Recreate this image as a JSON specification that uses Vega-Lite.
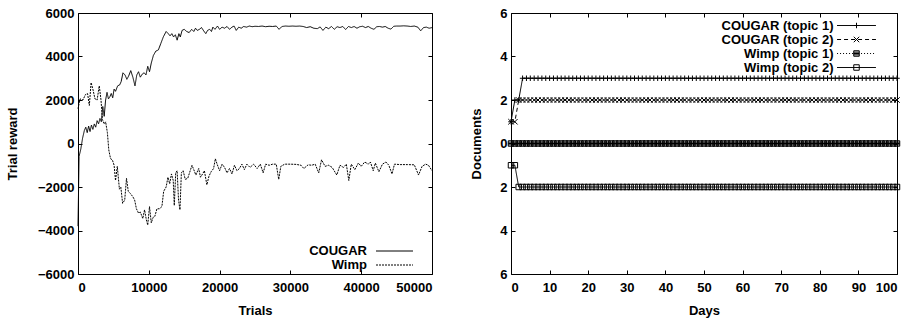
{
"$schema": "https://vega.github.io/schema/vega-lite/v6.json",
"padding": {"left": 5, "top": 6, "right": 0, "bottom": 0},
"background": "white",
"spacing": 33,
"resolve": {"scale": {"strokeDash": "independent", "shape": "independent"}, "legend": {"strokeDash": "independent", "shape": "independent"}},
"config": {
  "font": "Liberation Sans",
  "view": {"stroke": "black", "strokeWidth": 1},
  "axis": {"labelFont": "Liberation Sans", "labelFontSize": 13, "labelFontWeight": "bold", "labelColor": "black", "titleFont": "Liberation Sans", "titleFontSize": 13, "titleFontWeight": "bold", "titleColor": "black", "tickColor": "black", "tickSize": -4, "grid": false, "domain": false},
  "axisX": {"labelPadding": 11},
  "axisY": {"labelPadding": 8},
  "legend": {"labelFont": "Liberation Sans", "labelFontSize": 13, "labelFontWeight": "bold", "labelColor": "black", "padding": 0}
},
"hconcat": [
{
  "width": 354, "height": 261,
  "data": {"values": [
{"trial":0,"reward":-3800,"agent":"COUGAR"},{"trial":150,"reward":-600,"agent":"COUGAR"},{"trial":400,"reward":-250,"agent":"COUGAR"},{"trial":650,"reward":250,"agent":"COUGAR"},{"trial":900,"reward":600,"agent":"COUGAR"},{"trial":1100,"reward":750,"agent":"COUGAR"},{"trial":1300,"reward":500,"agent":"COUGAR"},{"trial":1500,"reward":800,"agent":"COUGAR"},{"trial":1700,"reward":550,"agent":"COUGAR"},{"trial":1900,"reward":850,"agent":"COUGAR"},{"trial":2100,"reward":650,"agent":"COUGAR"},{"trial":2300,"reward":900,"agent":"COUGAR"},{"trial":2500,"reward":750,"agent":"COUGAR"},{"trial":2700,"reward":1050,"agent":"COUGAR"},{"trial":2900,"reward":900,"agent":"COUGAR"},{"trial":3100,"reward":1150,"agent":"COUGAR"},{"trial":3300,"reward":1000,"agent":"COUGAR"},{"trial":3500,"reward":1700,"agent":"COUGAR"},{"trial":3700,"reward":1250,"agent":"COUGAR"},{"trial":3900,"reward":2000,"agent":"COUGAR"},{"trial":4100,"reward":2350,"agent":"COUGAR"},{"trial":4300,"reward":2050,"agent":"COUGAR"},{"trial":4500,"reward":2150,"agent":"COUGAR"},{"trial":4700,"reward":2300,"agent":"COUGAR"},{"trial":4900,"reward":2100,"agent":"COUGAR"},{"trial":5100,"reward":2500,"agent":"COUGAR"},{"trial":5300,"reward":2400,"agent":"COUGAR"},{"trial":5600,"reward":2650,"agent":"COUGAR"},{"trial":5900,"reward":2700,"agent":"COUGAR"},{"trial":6100,"reward":2850,"agent":"COUGAR"},{"trial":6350,"reward":3250,"agent":"COUGAR"},{"trial":6650,"reward":3150,"agent":"COUGAR"},{"trial":6900,"reward":2950,"agent":"COUGAR"},{"trial":7150,"reward":3100,"agent":"COUGAR"},{"trial":7450,"reward":3350,"agent":"COUGAR"},{"trial":7750,"reward":3050,"agent":"COUGAR"},{"trial":8050,"reward":2650,"agent":"COUGAR"},{"trial":8300,"reward":3150,"agent":"COUGAR"},{"trial":8550,"reward":3300,"agent":"COUGAR"},{"trial":8800,"reward":3050,"agent":"COUGAR"},{"trial":9100,"reward":3200,"agent":"COUGAR"},{"trial":9350,"reward":3250,"agent":"COUGAR"},{"trial":9600,"reward":3150,"agent":"COUGAR"},{"trial":9850,"reward":3550,"agent":"COUGAR"},{"trial":10100,"reward":3300,"agent":"COUGAR"},{"trial":10350,"reward":3700,"agent":"COUGAR"},{"trial":10650,"reward":4050,"agent":"COUGAR"},{"trial":11000,"reward":4250,"agent":"COUGAR"},{"trial":11350,"reward":4300,"agent":"COUGAR"},{"trial":11700,"reward":4600,"agent":"COUGAR"},{"trial":12050,"reward":4900,"agent":"COUGAR"},{"trial":12450,"reward":5150,"agent":"COUGAR"},{"trial":12750,"reward":5050,"agent":"COUGAR"},{"trial":13000,"reward":4950,"agent":"COUGAR"},{"trial":13250,"reward":5050,"agent":"COUGAR"},{"trial":13500,"reward":4900,"agent":"COUGAR"},{"trial":13750,"reward":5000,"agent":"COUGAR"},{"trial":14000,"reward":4750,"agent":"COUGAR"},{"trial":14250,"reward":5050,"agent":"COUGAR"},{"trial":14450,"reward":4900,"agent":"COUGAR"},{"trial":14700,"reward":5200,"agent":"COUGAR"},{"trial":15000,"reward":5250,"agent":"COUGAR"},{"trial":15350,"reward":5150,"agent":"COUGAR"},{"trial":15700,"reward":5100,"agent":"COUGAR"},{"trial":16050,"reward":5250,"agent":"COUGAR"},{"trial":16350,"reward":5150,"agent":"COUGAR"},{"trial":16600,"reward":5300,"agent":"COUGAR"},{"trial":16850,"reward":5200,"agent":"COUGAR"},{"trial":17150,"reward":5250,"agent":"COUGAR"},{"trial":17450,"reward":5330,"agent":"COUGAR"},{"trial":17750,"reward":5180,"agent":"COUGAR"},{"trial":18050,"reward":5050,"agent":"COUGAR"},{"trial":18300,"reward":5200,"agent":"COUGAR"},{"trial":18600,"reward":5250,"agent":"COUGAR"},{"trial":18850,"reward":5150,"agent":"COUGAR"},{"trial":19050,"reward":5350,"agent":"COUGAR"},{"trial":19350,"reward":5250,"agent":"COUGAR"},{"trial":19700,"reward":5400,"agent":"COUGAR"},{"trial":20000,"reward":5250,"agent":"COUGAR"},{"trial":20350,"reward":5350,"agent":"COUGAR"},{"trial":20700,"reward":5300,"agent":"COUGAR"},{"trial":21050,"reward":5380,"agent":"COUGAR"},{"trial":21400,"reward":5250,"agent":"COUGAR"},{"trial":21750,"reward":5350,"agent":"COUGAR"},{"trial":22050,"reward":5400,"agent":"COUGAR"},{"trial":22350,"reward":5200,"agent":"COUGAR"},{"trial":22700,"reward":5350,"agent":"COUGAR"},{"trial":23050,"reward":5300,"agent":"COUGAR"},{"trial":23400,"reward":5380,"agent":"COUGAR"},{"trial":23800,"reward":5350,"agent":"COUGAR"},{"trial":24200,"reward":5400,"agent":"COUGAR"},{"trial":24600,"reward":5370,"agent":"COUGAR"},{"trial":25000,"reward":5390,"agent":"COUGAR"},{"trial":25500,"reward":5380,"agent":"COUGAR"},{"trial":26000,"reward":5400,"agent":"COUGAR"},{"trial":26500,"reward":5370,"agent":"COUGAR"},{"trial":27000,"reward":5390,"agent":"COUGAR"},{"trial":27500,"reward":5380,"agent":"COUGAR"},{"trial":28000,"reward":5400,"agent":"COUGAR"},{"trial":28400,"reward":5250,"agent":"COUGAR"},{"trial":28800,"reward":5380,"agent":"COUGAR"},{"trial":29300,"reward":5400,"agent":"COUGAR"},{"trial":29800,"reward":5390,"agent":"COUGAR"},{"trial":30300,"reward":5400,"agent":"COUGAR"},{"trial":30800,"reward":5390,"agent":"COUGAR"},{"trial":31300,"reward":5400,"agent":"COUGAR"},{"trial":31800,"reward":5380,"agent":"COUGAR"},{"trial":32300,"reward":5330,"agent":"COUGAR"},{"trial":32800,"reward":5370,"agent":"COUGAR"},{"trial":33300,"reward":5300,"agent":"COUGAR"},{"trial":33800,"reward":5280,"agent":"COUGAR"},{"trial":34200,"reward":5360,"agent":"COUGAR"},{"trial":34600,"reward":5200,"agent":"COUGAR"},{"trial":35000,"reward":5350,"agent":"COUGAR"},{"trial":35400,"reward":5280,"agent":"COUGAR"},{"trial":35800,"reward":5380,"agent":"COUGAR"},{"trial":36200,"reward":5250,"agent":"COUGAR"},{"trial":36600,"reward":5370,"agent":"COUGAR"},{"trial":37000,"reward":5330,"agent":"COUGAR"},{"trial":37400,"reward":5380,"agent":"COUGAR"},{"trial":37800,"reward":5240,"agent":"COUGAR"},{"trial":38200,"reward":5380,"agent":"COUGAR"},{"trial":38600,"reward":5330,"agent":"COUGAR"},{"trial":39000,"reward":5380,"agent":"COUGAR"},{"trial":39400,"reward":5300,"agent":"COUGAR"},{"trial":39800,"reward":5370,"agent":"COUGAR"},{"trial":40200,"reward":5390,"agent":"COUGAR"},{"trial":40600,"reward":5330,"agent":"COUGAR"},{"trial":41000,"reward":5380,"agent":"COUGAR"},{"trial":41400,"reward":5300,"agent":"COUGAR"},{"trial":41800,"reward":5250,"agent":"COUGAR"},{"trial":42200,"reward":5370,"agent":"COUGAR"},{"trial":42600,"reward":5380,"agent":"COUGAR"},{"trial":43000,"reward":5350,"agent":"COUGAR"},{"trial":43400,"reward":5380,"agent":"COUGAR"},{"trial":43800,"reward":5300,"agent":"COUGAR"},{"trial":44200,"reward":5260,"agent":"COUGAR"},{"trial":44600,"reward":5390,"agent":"COUGAR"},{"trial":45000,"reward":5400,"agent":"COUGAR"},{"trial":45500,"reward":5400,"agent":"COUGAR"},{"trial":46000,"reward":5410,"agent":"COUGAR"},{"trial":46500,"reward":5400,"agent":"COUGAR"},{"trial":47000,"reward":5380,"agent":"COUGAR"},{"trial":47500,"reward":5400,"agent":"COUGAR"},{"trial":48000,"reward":5350,"agent":"COUGAR"},{"trial":48400,"reward":5180,"agent":"COUGAR"},{"trial":48800,"reward":5330,"agent":"COUGAR"},{"trial":49200,"reward":5350,"agent":"COUGAR"},{"trial":49600,"reward":5300,"agent":"COUGAR"},{"trial":50000,"reward":5330,"agent":"COUGAR"},
{"trial":0,"reward":1600,"agent":"Wimp"},{"trial":300,"reward":2050,"agent":"Wimp"},{"trial":700,"reward":2000,"agent":"Wimp"},{"trial":1050,"reward":2250,"agent":"Wimp"},{"trial":1350,"reward":2300,"agent":"Wimp"},{"trial":1600,"reward":1750,"agent":"Wimp"},{"trial":1850,"reward":2800,"agent":"Wimp"},{"trial":2100,"reward":2500,"agent":"Wimp"},{"trial":2400,"reward":2050,"agent":"Wimp"},{"trial":2700,"reward":2000,"agent":"Wimp"},{"trial":3000,"reward":2650,"agent":"Wimp"},{"trial":3250,"reward":2000,"agent":"Wimp"},{"trial":3450,"reward":1100,"agent":"Wimp"},{"trial":3700,"reward":900,"agent":"Wimp"},{"trial":3900,"reward":1000,"agent":"Wimp"},{"trial":4150,"reward":500,"agent":"Wimp"},{"trial":4350,"reward":-300,"agent":"Wimp"},{"trial":4600,"reward":-700,"agent":"Wimp"},{"trial":4850,"reward":-750,"agent":"Wimp"},{"trial":5100,"reward":-1000,"agent":"Wimp"},{"trial":5300,"reward":-1700,"agent":"Wimp"},{"trial":5550,"reward":-1050,"agent":"Wimp"},{"trial":5850,"reward":-2100,"agent":"Wimp"},{"trial":6050,"reward":-2000,"agent":"Wimp"},{"trial":6300,"reward":-2750,"agent":"Wimp"},{"trial":6600,"reward":-2600,"agent":"Wimp"},{"trial":6850,"reward":-1600,"agent":"Wimp"},{"trial":7100,"reward":-2200,"agent":"Wimp"},{"trial":7400,"reward":-2300,"agent":"Wimp"},{"trial":7750,"reward":-2450,"agent":"Wimp"},{"trial":8000,"reward":-2600,"agent":"Wimp"},{"trial":8250,"reward":-3000,"agent":"Wimp"},{"trial":8550,"reward":-3200,"agent":"Wimp"},{"trial":8800,"reward":-3150,"agent":"Wimp"},{"trial":9150,"reward":-3450,"agent":"Wimp"},{"trial":9400,"reward":-3050,"agent":"Wimp"},{"trial":9650,"reward":-3500,"agent":"Wimp"},{"trial":9850,"reward":-3750,"agent":"Wimp"},{"trial":10100,"reward":-2900,"agent":"Wimp"},{"trial":10350,"reward":-3650,"agent":"Wimp"},{"trial":10600,"reward":-3400,"agent":"Wimp"},{"trial":10850,"reward":-3350,"agent":"Wimp"},{"trial":11150,"reward":-3000,"agent":"Wimp"},{"trial":11500,"reward":-3000,"agent":"Wimp"},{"trial":11850,"reward":-2900,"agent":"Wimp"},{"trial":12100,"reward":-2200,"agent":"Wimp"},{"trial":12450,"reward":-2000,"agent":"Wimp"},{"trial":12700,"reward":-1550,"agent":"Wimp"},{"trial":12950,"reward":-1850,"agent":"Wimp"},{"trial":13200,"reward":-1400,"agent":"Wimp"},{"trial":13450,"reward":-1700,"agent":"Wimp"},{"trial":13600,"reward":-2850,"agent":"Wimp"},{"trial":13800,"reward":-1350,"agent":"Wimp"},{"trial":14000,"reward":-1250,"agent":"Wimp"},{"trial":14200,"reward":-2600,"agent":"Wimp"},{"trial":14400,"reward":-3050,"agent":"Wimp"},{"trial":14600,"reward":-1350,"agent":"Wimp"},{"trial":14850,"reward":-1250,"agent":"Wimp"},{"trial":15150,"reward":-1650,"agent":"Wimp"},{"trial":15500,"reward":-1600,"agent":"Wimp"},{"trial":15850,"reward":-1250,"agent":"Wimp"},{"trial":16100,"reward":-1000,"agent":"Wimp"},{"trial":16350,"reward":-1200,"agent":"Wimp"},{"trial":16650,"reward":-1450,"agent":"Wimp"},{"trial":17050,"reward":-1150,"agent":"Wimp"},{"trial":17300,"reward":-1550,"agent":"Wimp"},{"trial":17600,"reward":-1400,"agent":"Wimp"},{"trial":17850,"reward":-1250,"agent":"Wimp"},{"trial":18200,"reward":-1900,"agent":"Wimp"},{"trial":18500,"reward":-1500,"agent":"Wimp"},{"trial":18800,"reward":-1300,"agent":"Wimp"},{"trial":19150,"reward":-1150,"agent":"Wimp"},{"trial":19400,"reward":-700,"agent":"Wimp"},{"trial":19650,"reward":-950,"agent":"Wimp"},{"trial":20000,"reward":-1250,"agent":"Wimp"},{"trial":20350,"reward":-950,"agent":"Wimp"},{"trial":20700,"reward":-1100,"agent":"Wimp"},{"trial":21050,"reward":-1350,"agent":"Wimp"},{"trial":21400,"reward":-1150,"agent":"Wimp"},{"trial":21750,"reward":-1400,"agent":"Wimp"},{"trial":22100,"reward":-1000,"agent":"Wimp"},{"trial":22450,"reward":-1250,"agent":"Wimp"},{"trial":22800,"reward":-1150,"agent":"Wimp"},{"trial":23150,"reward":-950,"agent":"Wimp"},{"trial":23500,"reward":-1200,"agent":"Wimp"},{"trial":23850,"reward":-950,"agent":"Wimp"},{"trial":24300,"reward":-1100,"agent":"Wimp"},{"trial":24800,"reward":-950,"agent":"Wimp"},{"trial":25300,"reward":-1150,"agent":"Wimp"},{"trial":25750,"reward":-950,"agent":"Wimp"},{"trial":26150,"reward":-1350,"agent":"Wimp"},{"trial":26500,"reward":-950,"agent":"Wimp"},{"trial":27000,"reward":-1000,"agent":"Wimp"},{"trial":27500,"reward":-950,"agent":"Wimp"},{"trial":28000,"reward":-950,"agent":"Wimp"},{"trial":28350,"reward":-1650,"agent":"Wimp"},{"trial":28650,"reward":-1050,"agent":"Wimp"},{"trial":29200,"reward":-950,"agent":"Wimp"},{"trial":30000,"reward":-950,"agent":"Wimp"},{"trial":30800,"reward":-960,"agent":"Wimp"},{"trial":31500,"reward":-1000,"agent":"Wimp"},{"trial":31900,"reward":-1150,"agent":"Wimp"},{"trial":32500,"reward":-980,"agent":"Wimp"},{"trial":33000,"reward":-1000,"agent":"Wimp"},{"trial":33500,"reward":-950,"agent":"Wimp"},{"trial":34000,"reward":-1350,"agent":"Wimp"},{"trial":34400,"reward":-750,"agent":"Wimp"},{"trial":34900,"reward":-1050,"agent":"Wimp"},{"trial":35400,"reward":-1000,"agent":"Wimp"},{"trial":35900,"reward":-1100,"agent":"Wimp"},{"trial":36550,"reward":-1450,"agent":"Wimp"},{"trial":37000,"reward":-1000,"agent":"Wimp"},{"trial":37500,"reward":-1100,"agent":"Wimp"},{"trial":37900,"reward":-950,"agent":"Wimp"},{"trial":38250,"reward":-1700,"agent":"Wimp"},{"trial":38600,"reward":-950,"agent":"Wimp"},{"trial":39100,"reward":-1200,"agent":"Wimp"},{"trial":39600,"reward":-900,"agent":"Wimp"},{"trial":40000,"reward":-1050,"agent":"Wimp"},{"trial":40500,"reward":-850,"agent":"Wimp"},{"trial":41000,"reward":-950,"agent":"Wimp"},{"trial":41300,"reward":-850,"agent":"Wimp"},{"trial":41700,"reward":-1250,"agent":"Wimp"},{"trial":42000,"reward":-900,"agent":"Wimp"},{"trial":42500,"reward":-1300,"agent":"Wimp"},{"trial":43000,"reward":-950,"agent":"Wimp"},{"trial":43500,"reward":-850,"agent":"Wimp"},{"trial":43900,"reward":-1000,"agent":"Wimp"},{"trial":44350,"reward":-1400,"agent":"Wimp"},{"trial":44700,"reward":-950,"agent":"Wimp"},{"trial":45500,"reward":-970,"agent":"Wimp"},{"trial":46500,"reward":-970,"agent":"Wimp"},{"trial":47500,"reward":-980,"agent":"Wimp"},{"trial":48100,"reward":-1450,"agent":"Wimp"},{"trial":48600,"reward":-1050,"agent":"Wimp"},{"trial":49100,"reward":-950,"agent":"Wimp"},{"trial":49500,"reward":-1000,"agent":"Wimp"},{"trial":50000,"reward":-1250,"agent":"Wimp"}
  ]},
  "layer": [
    {"mark": {"type": "line", "color": "black", "strokeWidth": 1},
     "encoding": {
       "x": {"field": "trial", "type": "quantitative", "scale": {"domain": [0, 50000], "nice": false}, "axis": {"orient": "bottom", "title": "Trials", "values": [0, 10000, 20000, 30000, 40000, 50000], "format": "d", "titleY": 36, "titleBaseline": "middle"}},
       "y": {"field": "reward", "type": "quantitative", "scale": {"domain": [-6000, 6000], "nice": false}, "axis": {"orient": "left", "title": "Trial reward", "values": [-6000, -4000, -2000, 0, 2000, 4000, 6000], "format": "d", "titleX": -66, "titleBaseline": "middle"}},
       "strokeDash": {"field": "agent", "type": "nominal", "scale": {"domain": ["COUGAR", "Wimp"], "range": [[1, 0], [2, 1]]}, "legend": {"title": null, "orient": "none", "legendX": 310, "legendY": 231.5, "labelAlign": "right", "labelOffset": -34, "symbolSize": 30, "symbolType": "M-6.75,0L6.75,0", "symbolStrokeWidth": 1, "symbolStrokeColor": "black", "symbolFillColor": "transparent", "rowPadding": 0}}
     }},
    {"mark": {"type": "point", "opacity": 0},
     "encoding": {
       "x": {"field": "trial", "type": "quantitative", "axis": {"orient": "top", "labels": false, "title": null, "values": [0, 10000, 20000, 30000, 40000, 50000]}},
       "y": {"field": "reward", "type": "quantitative", "axis": {"orient": "right", "labels": false, "title": null, "values": [-6000, -4000, -2000, 0, 2000, 4000, 6000]}}
     }}
  ],
  "resolve": {"axis": {"x": "independent", "y": "independent"}}
},
{
  "width": 386, "height": 261,
  "data": {"values": [
{"day":0,"docs":1,"series":"COUGAR (topic 1)"},{"day":1,"docs":2,"series":"COUGAR (topic 1)"},{"day":2,"docs":2,"series":"COUGAR (topic 1)"},{"day":3,"docs":3,"series":"COUGAR (topic 1)"},{"day":4,"docs":3,"series":"COUGAR (topic 1)"},{"day":5,"docs":3,"series":"COUGAR (topic 1)"},{"day":6,"docs":3,"series":"COUGAR (topic 1)"},{"day":7,"docs":3,"series":"COUGAR (topic 1)"},{"day":8,"docs":3,"series":"COUGAR (topic 1)"},{"day":9,"docs":3,"series":"COUGAR (topic 1)"},{"day":10,"docs":3,"series":"COUGAR (topic 1)"},{"day":11,"docs":3,"series":"COUGAR (topic 1)"},{"day":12,"docs":3,"series":"COUGAR (topic 1)"},{"day":13,"docs":3,"series":"COUGAR (topic 1)"},{"day":14,"docs":3,"series":"COUGAR (topic 1)"},{"day":15,"docs":3,"series":"COUGAR (topic 1)"},{"day":16,"docs":3,"series":"COUGAR (topic 1)"},{"day":17,"docs":3,"series":"COUGAR (topic 1)"},{"day":18,"docs":3,"series":"COUGAR (topic 1)"},{"day":19,"docs":3,"series":"COUGAR (topic 1)"},{"day":20,"docs":3,"series":"COUGAR (topic 1)"},{"day":21,"docs":3,"series":"COUGAR (topic 1)"},{"day":22,"docs":3,"series":"COUGAR (topic 1)"},{"day":23,"docs":3,"series":"COUGAR (topic 1)"},{"day":24,"docs":3,"series":"COUGAR (topic 1)"},{"day":25,"docs":3,"series":"COUGAR (topic 1)"},{"day":26,"docs":3,"series":"COUGAR (topic 1)"},{"day":27,"docs":3,"series":"COUGAR (topic 1)"},{"day":28,"docs":3,"series":"COUGAR (topic 1)"},{"day":29,"docs":3,"series":"COUGAR (topic 1)"},{"day":30,"docs":3,"series":"COUGAR (topic 1)"},{"day":31,"docs":3,"series":"COUGAR (topic 1)"},{"day":32,"docs":3,"series":"COUGAR (topic 1)"},{"day":33,"docs":3,"series":"COUGAR (topic 1)"},{"day":34,"docs":3,"series":"COUGAR (topic 1)"},{"day":35,"docs":3,"series":"COUGAR (topic 1)"},{"day":36,"docs":3,"series":"COUGAR (topic 1)"},{"day":37,"docs":3,"series":"COUGAR (topic 1)"},{"day":38,"docs":3,"series":"COUGAR (topic 1)"},{"day":39,"docs":3,"series":"COUGAR (topic 1)"},{"day":40,"docs":3,"series":"COUGAR (topic 1)"},{"day":41,"docs":3,"series":"COUGAR (topic 1)"},{"day":42,"docs":3,"series":"COUGAR (topic 1)"},{"day":43,"docs":3,"series":"COUGAR (topic 1)"},{"day":44,"docs":3,"series":"COUGAR (topic 1)"},{"day":45,"docs":3,"series":"COUGAR (topic 1)"},{"day":46,"docs":3,"series":"COUGAR (topic 1)"},{"day":47,"docs":3,"series":"COUGAR (topic 1)"},{"day":48,"docs":3,"series":"COUGAR (topic 1)"},{"day":49,"docs":3,"series":"COUGAR (topic 1)"},{"day":50,"docs":3,"series":"COUGAR (topic 1)"},{"day":51,"docs":3,"series":"COUGAR (topic 1)"},{"day":52,"docs":3,"series":"COUGAR (topic 1)"},{"day":53,"docs":3,"series":"COUGAR (topic 1)"},{"day":54,"docs":3,"series":"COUGAR (topic 1)"},{"day":55,"docs":3,"series":"COUGAR (topic 1)"},{"day":56,"docs":3,"series":"COUGAR (topic 1)"},{"day":57,"docs":3,"series":"COUGAR (topic 1)"},{"day":58,"docs":3,"series":"COUGAR (topic 1)"},{"day":59,"docs":3,"series":"COUGAR (topic 1)"},{"day":60,"docs":3,"series":"COUGAR (topic 1)"},{"day":61,"docs":3,"series":"COUGAR (topic 1)"},{"day":62,"docs":3,"series":"COUGAR (topic 1)"},{"day":63,"docs":3,"series":"COUGAR (topic 1)"},{"day":64,"docs":3,"series":"COUGAR (topic 1)"},{"day":65,"docs":3,"series":"COUGAR (topic 1)"},{"day":66,"docs":3,"series":"COUGAR (topic 1)"},{"day":67,"docs":3,"series":"COUGAR (topic 1)"},{"day":68,"docs":3,"series":"COUGAR (topic 1)"},{"day":69,"docs":3,"series":"COUGAR (topic 1)"},{"day":70,"docs":3,"series":"COUGAR (topic 1)"},{"day":71,"docs":3,"series":"COUGAR (topic 1)"},{"day":72,"docs":3,"series":"COUGAR (topic 1)"},{"day":73,"docs":3,"series":"COUGAR (topic 1)"},{"day":74,"docs":3,"series":"COUGAR (topic 1)"},{"day":75,"docs":3,"series":"COUGAR (topic 1)"},{"day":76,"docs":3,"series":"COUGAR (topic 1)"},{"day":77,"docs":3,"series":"COUGAR (topic 1)"},{"day":78,"docs":3,"series":"COUGAR (topic 1)"},{"day":79,"docs":3,"series":"COUGAR (topic 1)"},{"day":80,"docs":3,"series":"COUGAR (topic 1)"},{"day":81,"docs":3,"series":"COUGAR (topic 1)"},{"day":82,"docs":3,"series":"COUGAR (topic 1)"},{"day":83,"docs":3,"series":"COUGAR (topic 1)"},{"day":84,"docs":3,"series":"COUGAR (topic 1)"},{"day":85,"docs":3,"series":"COUGAR (topic 1)"},{"day":86,"docs":3,"series":"COUGAR (topic 1)"},{"day":87,"docs":3,"series":"COUGAR (topic 1)"},{"day":88,"docs":3,"series":"COUGAR (topic 1)"},{"day":89,"docs":3,"series":"COUGAR (topic 1)"},{"day":90,"docs":3,"series":"COUGAR (topic 1)"},{"day":91,"docs":3,"series":"COUGAR (topic 1)"},{"day":92,"docs":3,"series":"COUGAR (topic 1)"},{"day":93,"docs":3,"series":"COUGAR (topic 1)"},{"day":94,"docs":3,"series":"COUGAR (topic 1)"},{"day":95,"docs":3,"series":"COUGAR (topic 1)"},{"day":96,"docs":3,"series":"COUGAR (topic 1)"},{"day":97,"docs":3,"series":"COUGAR (topic 1)"},{"day":98,"docs":3,"series":"COUGAR (topic 1)"},{"day":99,"docs":3,"series":"COUGAR (topic 1)"},{"day":100,"docs":3,"series":"COUGAR (topic 1)"},
{"day":0,"docs":1,"series":"COUGAR (topic 2)"},{"day":1,"docs":1,"series":"COUGAR (topic 2)"},{"day":2,"docs":2,"series":"COUGAR (topic 2)"},{"day":3,"docs":2,"series":"COUGAR (topic 2)"},{"day":4,"docs":2,"series":"COUGAR (topic 2)"},{"day":5,"docs":2,"series":"COUGAR (topic 2)"},{"day":6,"docs":2,"series":"COUGAR (topic 2)"},{"day":7,"docs":2,"series":"COUGAR (topic 2)"},{"day":8,"docs":2,"series":"COUGAR (topic 2)"},{"day":9,"docs":2,"series":"COUGAR (topic 2)"},{"day":10,"docs":2,"series":"COUGAR (topic 2)"},{"day":11,"docs":2,"series":"COUGAR (topic 2)"},{"day":12,"docs":2,"series":"COUGAR (topic 2)"},{"day":13,"docs":2,"series":"COUGAR (topic 2)"},{"day":14,"docs":2,"series":"COUGAR (topic 2)"},{"day":15,"docs":2,"series":"COUGAR (topic 2)"},{"day":16,"docs":2,"series":"COUGAR (topic 2)"},{"day":17,"docs":2,"series":"COUGAR (topic 2)"},{"day":18,"docs":2,"series":"COUGAR (topic 2)"},{"day":19,"docs":2,"series":"COUGAR (topic 2)"},{"day":20,"docs":2,"series":"COUGAR (topic 2)"},{"day":21,"docs":2,"series":"COUGAR (topic 2)"},{"day":22,"docs":2,"series":"COUGAR (topic 2)"},{"day":23,"docs":2,"series":"COUGAR (topic 2)"},{"day":24,"docs":2,"series":"COUGAR (topic 2)"},{"day":25,"docs":2,"series":"COUGAR (topic 2)"},{"day":26,"docs":2,"series":"COUGAR (topic 2)"},{"day":27,"docs":2,"series":"COUGAR (topic 2)"},{"day":28,"docs":2,"series":"COUGAR (topic 2)"},{"day":29,"docs":2,"series":"COUGAR (topic 2)"},{"day":30,"docs":2,"series":"COUGAR (topic 2)"},{"day":31,"docs":2,"series":"COUGAR (topic 2)"},{"day":32,"docs":2,"series":"COUGAR (topic 2)"},{"day":33,"docs":2,"series":"COUGAR (topic 2)"},{"day":34,"docs":2,"series":"COUGAR (topic 2)"},{"day":35,"docs":2,"series":"COUGAR (topic 2)"},{"day":36,"docs":2,"series":"COUGAR (topic 2)"},{"day":37,"docs":2,"series":"COUGAR (topic 2)"},{"day":38,"docs":2,"series":"COUGAR (topic 2)"},{"day":39,"docs":2,"series":"COUGAR (topic 2)"},{"day":40,"docs":2,"series":"COUGAR (topic 2)"},{"day":41,"docs":2,"series":"COUGAR (topic 2)"},{"day":42,"docs":2,"series":"COUGAR (topic 2)"},{"day":43,"docs":2,"series":"COUGAR (topic 2)"},{"day":44,"docs":2,"series":"COUGAR (topic 2)"},{"day":45,"docs":2,"series":"COUGAR (topic 2)"},{"day":46,"docs":2,"series":"COUGAR (topic 2)"},{"day":47,"docs":2,"series":"COUGAR (topic 2)"},{"day":48,"docs":2,"series":"COUGAR (topic 2)"},{"day":49,"docs":2,"series":"COUGAR (topic 2)"},{"day":50,"docs":2,"series":"COUGAR (topic 2)"},{"day":51,"docs":2,"series":"COUGAR (topic 2)"},{"day":52,"docs":2,"series":"COUGAR (topic 2)"},{"day":53,"docs":2,"series":"COUGAR (topic 2)"},{"day":54,"docs":2,"series":"COUGAR (topic 2)"},{"day":55,"docs":2,"series":"COUGAR (topic 2)"},{"day":56,"docs":2,"series":"COUGAR (topic 2)"},{"day":57,"docs":2,"series":"COUGAR (topic 2)"},{"day":58,"docs":2,"series":"COUGAR (topic 2)"},{"day":59,"docs":2,"series":"COUGAR (topic 2)"},{"day":60,"docs":2,"series":"COUGAR (topic 2)"},{"day":61,"docs":2,"series":"COUGAR (topic 2)"},{"day":62,"docs":2,"series":"COUGAR (topic 2)"},{"day":63,"docs":2,"series":"COUGAR (topic 2)"},{"day":64,"docs":2,"series":"COUGAR (topic 2)"},{"day":65,"docs":2,"series":"COUGAR (topic 2)"},{"day":66,"docs":2,"series":"COUGAR (topic 2)"},{"day":67,"docs":2,"series":"COUGAR (topic 2)"},{"day":68,"docs":2,"series":"COUGAR (topic 2)"},{"day":69,"docs":2,"series":"COUGAR (topic 2)"},{"day":70,"docs":2,"series":"COUGAR (topic 2)"},{"day":71,"docs":2,"series":"COUGAR (topic 2)"},{"day":72,"docs":2,"series":"COUGAR (topic 2)"},{"day":73,"docs":2,"series":"COUGAR (topic 2)"},{"day":74,"docs":2,"series":"COUGAR (topic 2)"},{"day":75,"docs":2,"series":"COUGAR (topic 2)"},{"day":76,"docs":2,"series":"COUGAR (topic 2)"},{"day":77,"docs":2,"series":"COUGAR (topic 2)"},{"day":78,"docs":2,"series":"COUGAR (topic 2)"},{"day":79,"docs":2,"series":"COUGAR (topic 2)"},{"day":80,"docs":2,"series":"COUGAR (topic 2)"},{"day":81,"docs":2,"series":"COUGAR (topic 2)"},{"day":82,"docs":2,"series":"COUGAR (topic 2)"},{"day":83,"docs":2,"series":"COUGAR (topic 2)"},{"day":84,"docs":2,"series":"COUGAR (topic 2)"},{"day":85,"docs":2,"series":"COUGAR (topic 2)"},{"day":86,"docs":2,"series":"COUGAR (topic 2)"},{"day":87,"docs":2,"series":"COUGAR (topic 2)"},{"day":88,"docs":2,"series":"COUGAR (topic 2)"},{"day":89,"docs":2,"series":"COUGAR (topic 2)"},{"day":90,"docs":2,"series":"COUGAR (topic 2)"},{"day":91,"docs":2,"series":"COUGAR (topic 2)"},{"day":92,"docs":2,"series":"COUGAR (topic 2)"},{"day":93,"docs":2,"series":"COUGAR (topic 2)"},{"day":94,"docs":2,"series":"COUGAR (topic 2)"},{"day":95,"docs":2,"series":"COUGAR (topic 2)"},{"day":96,"docs":2,"series":"COUGAR (topic 2)"},{"day":97,"docs":2,"series":"COUGAR (topic 2)"},{"day":98,"docs":2,"series":"COUGAR (topic 2)"},{"day":99,"docs":2,"series":"COUGAR (topic 2)"},{"day":100,"docs":2,"series":"COUGAR (topic 2)"},
{"day":0,"docs":0,"series":"Wimp (topic 1)"},{"day":1,"docs":0,"series":"Wimp (topic 1)"},{"day":2,"docs":0,"series":"Wimp (topic 1)"},{"day":3,"docs":0,"series":"Wimp (topic 1)"},{"day":4,"docs":0,"series":"Wimp (topic 1)"},{"day":5,"docs":0,"series":"Wimp (topic 1)"},{"day":6,"docs":0,"series":"Wimp (topic 1)"},{"day":7,"docs":0,"series":"Wimp (topic 1)"},{"day":8,"docs":0,"series":"Wimp (topic 1)"},{"day":9,"docs":0,"series":"Wimp (topic 1)"},{"day":10,"docs":0,"series":"Wimp (topic 1)"},{"day":11,"docs":0,"series":"Wimp (topic 1)"},{"day":12,"docs":0,"series":"Wimp (topic 1)"},{"day":13,"docs":0,"series":"Wimp (topic 1)"},{"day":14,"docs":0,"series":"Wimp (topic 1)"},{"day":15,"docs":0,"series":"Wimp (topic 1)"},{"day":16,"docs":0,"series":"Wimp (topic 1)"},{"day":17,"docs":0,"series":"Wimp (topic 1)"},{"day":18,"docs":0,"series":"Wimp (topic 1)"},{"day":19,"docs":0,"series":"Wimp (topic 1)"},{"day":20,"docs":0,"series":"Wimp (topic 1)"},{"day":21,"docs":0,"series":"Wimp (topic 1)"},{"day":22,"docs":0,"series":"Wimp (topic 1)"},{"day":23,"docs":0,"series":"Wimp (topic 1)"},{"day":24,"docs":0,"series":"Wimp (topic 1)"},{"day":25,"docs":0,"series":"Wimp (topic 1)"},{"day":26,"docs":0,"series":"Wimp (topic 1)"},{"day":27,"docs":0,"series":"Wimp (topic 1)"},{"day":28,"docs":0,"series":"Wimp (topic 1)"},{"day":29,"docs":0,"series":"Wimp (topic 1)"},{"day":30,"docs":0,"series":"Wimp (topic 1)"},{"day":31,"docs":0,"series":"Wimp (topic 1)"},{"day":32,"docs":0,"series":"Wimp (topic 1)"},{"day":33,"docs":0,"series":"Wimp (topic 1)"},{"day":34,"docs":0,"series":"Wimp (topic 1)"},{"day":35,"docs":0,"series":"Wimp (topic 1)"},{"day":36,"docs":0,"series":"Wimp (topic 1)"},{"day":37,"docs":0,"series":"Wimp (topic 1)"},{"day":38,"docs":0,"series":"Wimp (topic 1)"},{"day":39,"docs":0,"series":"Wimp (topic 1)"},{"day":40,"docs":0,"series":"Wimp (topic 1)"},{"day":41,"docs":0,"series":"Wimp (topic 1)"},{"day":42,"docs":0,"series":"Wimp (topic 1)"},{"day":43,"docs":0,"series":"Wimp (topic 1)"},{"day":44,"docs":0,"series":"Wimp (topic 1)"},{"day":45,"docs":0,"series":"Wimp (topic 1)"},{"day":46,"docs":0,"series":"Wimp (topic 1)"},{"day":47,"docs":0,"series":"Wimp (topic 1)"},{"day":48,"docs":0,"series":"Wimp (topic 1)"},{"day":49,"docs":0,"series":"Wimp (topic 1)"},{"day":50,"docs":0,"series":"Wimp (topic 1)"},{"day":51,"docs":0,"series":"Wimp (topic 1)"},{"day":52,"docs":0,"series":"Wimp (topic 1)"},{"day":53,"docs":0,"series":"Wimp (topic 1)"},{"day":54,"docs":0,"series":"Wimp (topic 1)"},{"day":55,"docs":0,"series":"Wimp (topic 1)"},{"day":56,"docs":0,"series":"Wimp (topic 1)"},{"day":57,"docs":0,"series":"Wimp (topic 1)"},{"day":58,"docs":0,"series":"Wimp (topic 1)"},{"day":59,"docs":0,"series":"Wimp (topic 1)"},{"day":60,"docs":0,"series":"Wimp (topic 1)"},{"day":61,"docs":0,"series":"Wimp (topic 1)"},{"day":62,"docs":0,"series":"Wimp (topic 1)"},{"day":63,"docs":0,"series":"Wimp (topic 1)"},{"day":64,"docs":0,"series":"Wimp (topic 1)"},{"day":65,"docs":0,"series":"Wimp (topic 1)"},{"day":66,"docs":0,"series":"Wimp (topic 1)"},{"day":67,"docs":0,"series":"Wimp (topic 1)"},{"day":68,"docs":0,"series":"Wimp (topic 1)"},{"day":69,"docs":0,"series":"Wimp (topic 1)"},{"day":70,"docs":0,"series":"Wimp (topic 1)"},{"day":71,"docs":0,"series":"Wimp (topic 1)"},{"day":72,"docs":0,"series":"Wimp (topic 1)"},{"day":73,"docs":0,"series":"Wimp (topic 1)"},{"day":74,"docs":0,"series":"Wimp (topic 1)"},{"day":75,"docs":0,"series":"Wimp (topic 1)"},{"day":76,"docs":0,"series":"Wimp (topic 1)"},{"day":77,"docs":0,"series":"Wimp (topic 1)"},{"day":78,"docs":0,"series":"Wimp (topic 1)"},{"day":79,"docs":0,"series":"Wimp (topic 1)"},{"day":80,"docs":0,"series":"Wimp (topic 1)"},{"day":81,"docs":0,"series":"Wimp (topic 1)"},{"day":82,"docs":0,"series":"Wimp (topic 1)"},{"day":83,"docs":0,"series":"Wimp (topic 1)"},{"day":84,"docs":0,"series":"Wimp (topic 1)"},{"day":85,"docs":0,"series":"Wimp (topic 1)"},{"day":86,"docs":0,"series":"Wimp (topic 1)"},{"day":87,"docs":0,"series":"Wimp (topic 1)"},{"day":88,"docs":0,"series":"Wimp (topic 1)"},{"day":89,"docs":0,"series":"Wimp (topic 1)"},{"day":90,"docs":0,"series":"Wimp (topic 1)"},{"day":91,"docs":0,"series":"Wimp (topic 1)"},{"day":92,"docs":0,"series":"Wimp (topic 1)"},{"day":93,"docs":0,"series":"Wimp (topic 1)"},{"day":94,"docs":0,"series":"Wimp (topic 1)"},{"day":95,"docs":0,"series":"Wimp (topic 1)"},{"day":96,"docs":0,"series":"Wimp (topic 1)"},{"day":97,"docs":0,"series":"Wimp (topic 1)"},{"day":98,"docs":0,"series":"Wimp (topic 1)"},{"day":99,"docs":0,"series":"Wimp (topic 1)"},{"day":100,"docs":0,"series":"Wimp (topic 1)"},
{"day":0,"docs":-1,"series":"Wimp (topic 2)"},{"day":1,"docs":-1,"series":"Wimp (topic 2)"},{"day":2,"docs":-2,"series":"Wimp (topic 2)"},{"day":3,"docs":-2,"series":"Wimp (topic 2)"},{"day":4,"docs":-2,"series":"Wimp (topic 2)"},{"day":5,"docs":-2,"series":"Wimp (topic 2)"},{"day":6,"docs":-2,"series":"Wimp (topic 2)"},{"day":7,"docs":-2,"series":"Wimp (topic 2)"},{"day":8,"docs":-2,"series":"Wimp (topic 2)"},{"day":9,"docs":-2,"series":"Wimp (topic 2)"},{"day":10,"docs":-2,"series":"Wimp (topic 2)"},{"day":11,"docs":-2,"series":"Wimp (topic 2)"},{"day":12,"docs":-2,"series":"Wimp (topic 2)"},{"day":13,"docs":-2,"series":"Wimp (topic 2)"},{"day":14,"docs":-2,"series":"Wimp (topic 2)"},{"day":15,"docs":-2,"series":"Wimp (topic 2)"},{"day":16,"docs":-2,"series":"Wimp (topic 2)"},{"day":17,"docs":-2,"series":"Wimp (topic 2)"},{"day":18,"docs":-2,"series":"Wimp (topic 2)"},{"day":19,"docs":-2,"series":"Wimp (topic 2)"},{"day":20,"docs":-2,"series":"Wimp (topic 2)"},{"day":21,"docs":-2,"series":"Wimp (topic 2)"},{"day":22,"docs":-2,"series":"Wimp (topic 2)"},{"day":23,"docs":-2,"series":"Wimp (topic 2)"},{"day":24,"docs":-2,"series":"Wimp (topic 2)"},{"day":25,"docs":-2,"series":"Wimp (topic 2)"},{"day":26,"docs":-2,"series":"Wimp (topic 2)"},{"day":27,"docs":-2,"series":"Wimp (topic 2)"},{"day":28,"docs":-2,"series":"Wimp (topic 2)"},{"day":29,"docs":-2,"series":"Wimp (topic 2)"},{"day":30,"docs":-2,"series":"Wimp (topic 2)"},{"day":31,"docs":-2,"series":"Wimp (topic 2)"},{"day":32,"docs":-2,"series":"Wimp (topic 2)"},{"day":33,"docs":-2,"series":"Wimp (topic 2)"},{"day":34,"docs":-2,"series":"Wimp (topic 2)"},{"day":35,"docs":-2,"series":"Wimp (topic 2)"},{"day":36,"docs":-2,"series":"Wimp (topic 2)"},{"day":37,"docs":-2,"series":"Wimp (topic 2)"},{"day":38,"docs":-2,"series":"Wimp (topic 2)"},{"day":39,"docs":-2,"series":"Wimp (topic 2)"},{"day":40,"docs":-2,"series":"Wimp (topic 2)"},{"day":41,"docs":-2,"series":"Wimp (topic 2)"},{"day":42,"docs":-2,"series":"Wimp (topic 2)"},{"day":43,"docs":-2,"series":"Wimp (topic 2)"},{"day":44,"docs":-2,"series":"Wimp (topic 2)"},{"day":45,"docs":-2,"series":"Wimp (topic 2)"},{"day":46,"docs":-2,"series":"Wimp (topic 2)"},{"day":47,"docs":-2,"series":"Wimp (topic 2)"},{"day":48,"docs":-2,"series":"Wimp (topic 2)"},{"day":49,"docs":-2,"series":"Wimp (topic 2)"},{"day":50,"docs":-2,"series":"Wimp (topic 2)"},{"day":51,"docs":-2,"series":"Wimp (topic 2)"},{"day":52,"docs":-2,"series":"Wimp (topic 2)"},{"day":53,"docs":-2,"series":"Wimp (topic 2)"},{"day":54,"docs":-2,"series":"Wimp (topic 2)"},{"day":55,"docs":-2,"series":"Wimp (topic 2)"},{"day":56,"docs":-2,"series":"Wimp (topic 2)"},{"day":57,"docs":-2,"series":"Wimp (topic 2)"},{"day":58,"docs":-2,"series":"Wimp (topic 2)"},{"day":59,"docs":-2,"series":"Wimp (topic 2)"},{"day":60,"docs":-2,"series":"Wimp (topic 2)"},{"day":61,"docs":-2,"series":"Wimp (topic 2)"},{"day":62,"docs":-2,"series":"Wimp (topic 2)"},{"day":63,"docs":-2,"series":"Wimp (topic 2)"},{"day":64,"docs":-2,"series":"Wimp (topic 2)"},{"day":65,"docs":-2,"series":"Wimp (topic 2)"},{"day":66,"docs":-2,"series":"Wimp (topic 2)"},{"day":67,"docs":-2,"series":"Wimp (topic 2)"},{"day":68,"docs":-2,"series":"Wimp (topic 2)"},{"day":69,"docs":-2,"series":"Wimp (topic 2)"},{"day":70,"docs":-2,"series":"Wimp (topic 2)"},{"day":71,"docs":-2,"series":"Wimp (topic 2)"},{"day":72,"docs":-2,"series":"Wimp (topic 2)"},{"day":73,"docs":-2,"series":"Wimp (topic 2)"},{"day":74,"docs":-2,"series":"Wimp (topic 2)"},{"day":75,"docs":-2,"series":"Wimp (topic 2)"},{"day":76,"docs":-2,"series":"Wimp (topic 2)"},{"day":77,"docs":-2,"series":"Wimp (topic 2)"},{"day":78,"docs":-2,"series":"Wimp (topic 2)"},{"day":79,"docs":-2,"series":"Wimp (topic 2)"},{"day":80,"docs":-2,"series":"Wimp (topic 2)"},{"day":81,"docs":-2,"series":"Wimp (topic 2)"},{"day":82,"docs":-2,"series":"Wimp (topic 2)"},{"day":83,"docs":-2,"series":"Wimp (topic 2)"},{"day":84,"docs":-2,"series":"Wimp (topic 2)"},{"day":85,"docs":-2,"series":"Wimp (topic 2)"},{"day":86,"docs":-2,"series":"Wimp (topic 2)"},{"day":87,"docs":-2,"series":"Wimp (topic 2)"},{"day":88,"docs":-2,"series":"Wimp (topic 2)"},{"day":89,"docs":-2,"series":"Wimp (topic 2)"},{"day":90,"docs":-2,"series":"Wimp (topic 2)"},{"day":91,"docs":-2,"series":"Wimp (topic 2)"},{"day":92,"docs":-2,"series":"Wimp (topic 2)"},{"day":93,"docs":-2,"series":"Wimp (topic 2)"},{"day":94,"docs":-2,"series":"Wimp (topic 2)"},{"day":95,"docs":-2,"series":"Wimp (topic 2)"},{"day":96,"docs":-2,"series":"Wimp (topic 2)"},{"day":97,"docs":-2,"series":"Wimp (topic 2)"},{"day":98,"docs":-2,"series":"Wimp (topic 2)"},{"day":99,"docs":-2,"series":"Wimp (topic 2)"},{"day":100,"docs":-2,"series":"Wimp (topic 2)"}
  ]},
  "layer": [
    {"mark": {"type": "line", "color": "black", "strokeWidth": 1},
     "encoding": {
       "x": {"field": "day", "type": "quantitative", "scale": {"domain": [0, 100], "nice": false}, "axis": {"orient": "bottom", "title": "Days", "values": [0, 10, 20, 30, 40, 50, 60, 70, 80, 90, 100], "titleY": 36, "titleBaseline": "middle"}},
       "y": {"field": "docs", "type": "quantitative", "scale": {"domain": [-6, 6], "nice": false}, "axis": {"orient": "left", "title": "Documents", "values": [-6, -4, -2, 0, 2, 4, 6], "labelExpr": "abs(datum.value)", "titleX": -35, "titleBaseline": "middle"}},
       "strokeDash": {"field": "series", "type": "nominal", "scale": {"range": [[1, 0], [4, 3], [1, 2], [1, 0]]}, "legend": {"title": null, "orient": "none", "legendX": 339, "legendY": 6, "labelAlign": "right", "labelOffset": -29.5, "symbolSize": 30, "symbolType": "M-7.1,0L7.1,0", "symbolStrokeWidth": 1, "symbolStrokeColor": "black", "symbolFillColor": "transparent", "rowPadding": 0}}
     }},
    {"mark": {"type": "point", "filled": false, "color": "black", "strokeWidth": 1, "size": 30, "opacity": 1},
     "encoding": {
       "x": {"field": "day", "type": "quantitative", "axis": null},
       "y": {"field": "docs", "type": "quantitative", "axis": null},
       "shape": {"field": "series", "type": "nominal", "scale": {"domain": ["COUGAR (topic 1)", "COUGAR (topic 2)", "Wimp (topic 1)", "Wimp (topic 2)"], "range": ["M-1,0L1,0M0,-1L0,1", "M-1,-1L1,1M-1,1L1,-1", "M-1,-1L1,-1L1,1L-1,1ZM-1,-0.5L1,-0.5M-1,0L1,0M-1,0.5L1,0.5", "M-1,-1L1,-1L1,1L-1,1Z"]}, "legend": {"title": null, "orient": "none", "legendX": 339, "legendY": 6, "labelAlign": "right", "labelOffset": -29.5, "labelOpacity": 0, "symbolSize": 30, "symbolStrokeWidth": 1, "symbolStrokeColor": "black", "symbolFillColor": "transparent", "rowPadding": 0}}
     }},
    {"mark": {"type": "point", "opacity": 0},
     "encoding": {
       "x": {"field": "day", "type": "quantitative", "axis": {"orient": "top", "labels": false, "title": null, "values": [0, 10, 20, 30, 40, 50, 60, 70, 80, 90, 100]}},
       "y": {"field": "docs", "type": "quantitative", "axis": {"orient": "right", "labels": false, "title": null, "values": [-6, -4, -2, 0, 2, 4, 6]}}
     }}
  ],
  "resolve": {"axis": {"x": "independent", "y": "independent"}}
}
]
}
